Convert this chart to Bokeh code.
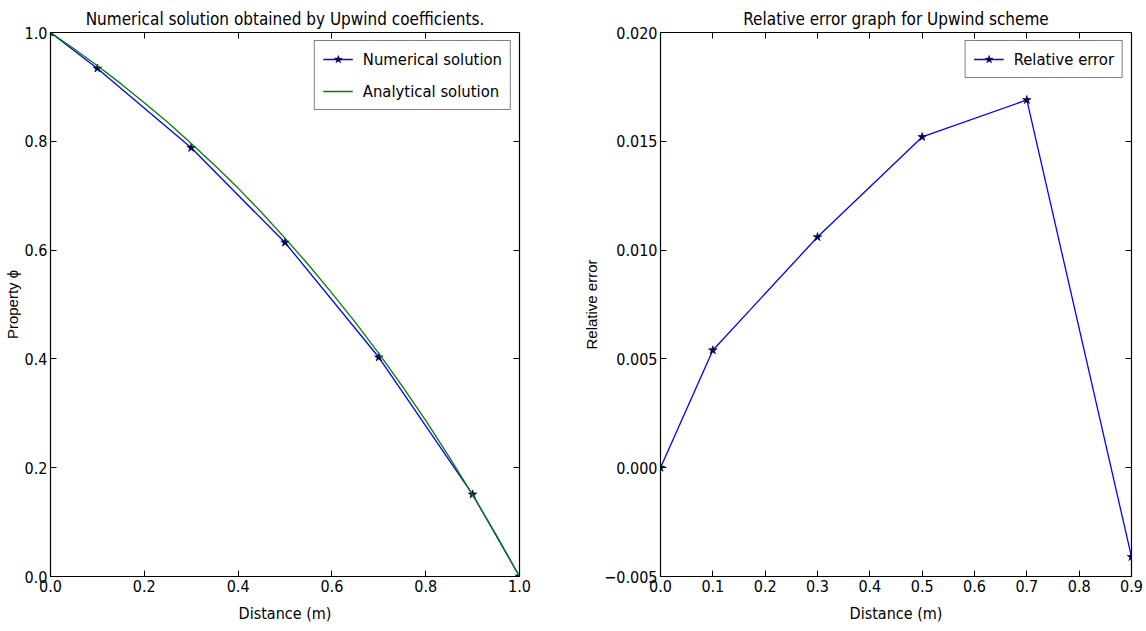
from bokeh.plotting import figure
from bokeh.layouts import row
from bokeh.models import LinearAxis, Range1d, FixedTicker, Title, Legend, LegendItem, CustomJSTickFormatter
from bokeh.embed import file_html
from bokeh.resources import INLINE

# ---- data ----
num_x = [0.0, 0.1, 0.3, 0.5, 0.7, 0.9, 1.0]
num_y = [1.0, 0.934, 0.788, 0.614, 0.403, 0.151, 0.0]

ana_x = [0.0, 0.05, 0.10, 0.15, 0.20, 0.25, 0.30, 0.35, 0.40, 0.45, 0.50,
         0.55, 0.60, 0.65, 0.70, 0.75, 0.80, 0.85, 0.90, 0.95, 1.0]
ana_y = [1.0, 0.970, 0.939, 0.906, 0.871, 0.835, 0.796, 0.756, 0.714, 0.669, 0.622,
         0.573, 0.521, 0.467, 0.410, 0.350, 0.287, 0.220, 0.150, 0.077, 0.0]

err_x = [0.0, 0.1, 0.3, 0.5, 0.7, 0.9]
err_y = [0.0, 0.0054, 0.0106, 0.0152, 0.0169, -0.0041]

left_xticks = [0.0, 0.2, 0.4, 0.6, 0.8, 1.0]
left_yticks = [0.0, 0.2, 0.4, 0.6, 0.8, 1.0]
right_xticks = [0.0, 0.1, 0.2, 0.3, 0.4, 0.5, 0.6, 0.7, 0.8, 0.9]
right_yticks = [-0.005, 0.0, 0.005, 0.010, 0.015, 0.020]

FONT = "DejaVu Sans Condensed"
LBLFONT = "Liberation Sans"
BLUE = "#0000ff"
GREEN = "#008000"


def style(p, xticks, yticks, xlabel, ylabel, yfmt, title):
    p.outline_line_color = "black"
    p.outline_line_width = 1.2
    p.xgrid.visible = False
    p.ygrid.visible = False
    p.background_fill_color = "white"
    p.border_fill_color = "white"
    bottom = p.below[0]
    left = p.left[0]
    for ax in (bottom, left):
        ax.major_tick_in = 6
        ax.major_tick_out = 0
        ax.minor_tick_in = 0
        ax.minor_tick_out = 0
        ax.major_label_text_font = FONT
        ax.major_label_text_font_size = "16px"
        ax.major_label_text_color = "black"
        ax.axis_line_color = "black"
        ax.major_tick_line_color = "black"
        ax.major_label_standoff = 3
        ax.axis_label_text_color = "black"
    bottom.ticker = FixedTicker(ticks=xticks)
    left.ticker = FixedTicker(ticks=yticks)
    bottom.formatter = CustomJSTickFormatter(code="return tick.toFixed(1);")
    left.formatter = CustomJSTickFormatter(code=yfmt)
    bottom.axis_label = xlabel
    bottom.axis_label_text_font = FONT
    bottom.axis_label_text_font_size = "16px"
    bottom.axis_label_text_font_style = "normal"
    bottom.axis_label_standoff = 9
    left.axis_label = ylabel
    left.axis_label_text_font = LBLFONT
    left.axis_label_text_font_size = "15px"
    left.axis_label_text_font_style = "normal"
    left.axis_label_standoff = 1
    # mirrored tick axes (ticks only)
    empty = "return '';"
    top = LinearAxis(ticker=FixedTicker(ticks=xticks), major_tick_in=6, major_tick_out=0,
                     minor_tick_in=0, minor_tick_out=0,
                     formatter=CustomJSTickFormatter(code=empty),
                     major_label_standoff=0, axis_line_color="black")
    right = LinearAxis(ticker=FixedTicker(ticks=yticks), major_tick_in=6, major_tick_out=0,
                       minor_tick_in=0, minor_tick_out=0,
                       formatter=CustomJSTickFormatter(code=empty),
                       major_label_standoff=0, axis_line_color="black")
    p.add_layout(top, "above")
    p.add_layout(right, "right")
    t = Title(text=title, align="center", text_font=FONT, text_font_size="17px",
              text_font_style="normal", text_color="black", standoff=7, offset=0)
    p.add_layout(t, "above")


def make_legend(items):
    return Legend(items=items, location="top_right", label_text_font=FONT,
                  label_text_font_size="16.5px", label_text_color="black",
                  border_line_color="black", border_line_width=1.2, background_fill_alpha=1,
                  glyph_width=30, label_standoff=10, spacing=12, padding=8, margin=8)


# ---- left plot ----
p1 = figure(width=570, height=631, output_backend="svg", toolbar_location=None,
            x_range=Range1d(0, 1), y_range=Range1d(0, 1),
            min_border_left=50, min_border_right=51, min_border_top=32, min_border_bottom=55)
style(p1, left_xticks, left_yticks, "Distance (m)", "Property ϕ",
      "return tick.toFixed(1);", "Numerical solution obtained by Upwind coefficients.")

l_num = p1.line(num_x, num_y, line_color=BLUE, line_width=1.3)
s_num = p1.scatter(num_x, num_y, marker="star", size=9, fill_color="#000080", line_color="black",
                   line_width=0.6)
l_ana = p1.line(ana_x, ana_y, line_color=GREEN, line_width=1.3)

p1.add_layout(make_legend([LegendItem(label="Numerical solution", renderers=[l_num, s_num]),
                           LegendItem(label="Analytical solution", renderers=[l_ana])]))

# ---- right plot ----
p2 = figure(width=576, height=631, output_backend="svg", toolbar_location=None,
            x_range=Range1d(0, 0.9), y_range=Range1d(-0.005, 0.020),
            min_border_left=90, min_border_right=15, min_border_top=32, min_border_bottom=55)
style(p2, right_xticks, right_yticks, "Distance (m)", "Relative error",
      "return (tick < 0 ? '\u2212' : '') + Math.abs(tick).toFixed(3);",
      "Relative error graph for Upwind scheme")

l_err = p2.line(err_x, err_y, line_color=BLUE, line_width=1.3)
s_err = p2.scatter(err_x, err_y, marker="star", size=9, fill_color="#000080", line_color="black",
                   line_width=0.6)
p2.add_layout(make_legend([LegendItem(label="Relative error", renderers=[l_err, s_err])]))

layout = row(p1, p2)
open("out.html", "w").write(file_html(layout, INLINE))
